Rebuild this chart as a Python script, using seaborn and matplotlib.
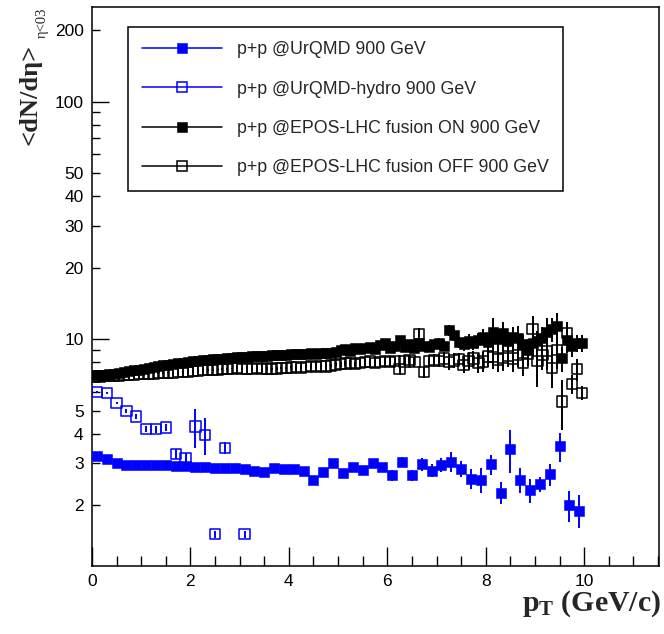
import numpy as np
import pandas as pd
import matplotlib
matplotlib.use("Agg")
import matplotlib.pyplot as plt
import seaborn as sns
from matplotlib.lines import Line2D
from matplotlib.ticker import FixedLocator, FixedFormatter, MultipleLocator, NullFormatter

# ---------------- data ----------------
pt_coarse = [0.1, 0.3, 0.5, 0.7, 0.9, 1.1, 1.3, 1.5, 1.7, 1.9,
             2.1, 2.3, 2.5, 2.7, 2.9, 3.1, 3.3, 3.5, 3.7, 3.9,
             4.1, 4.3, 4.5, 4.7, 4.9, 5.1, 5.3, 5.5, 5.7, 5.9,
             6.1, 6.3, 6.5, 6.7, 6.9, 7.1, 7.3, 7.5, 7.7, 7.9,
             8.1, 8.3, 8.5, 8.7, 8.9, 9.1, 9.3, 9.5, 9.7, 9.9]

urqmd_val = [3.23, 3.14, 3.02, 2.95, 2.94, 2.94, 2.94, 2.94, 2.93, 2.92,
             2.90, 2.89, 2.88, 2.86, 2.88, 2.85, 2.80, 2.77, 2.86, 2.84,
             2.84, 2.80, 2.56, 2.76, 3.00, 2.74, 2.91, 2.82, 3.00, 2.89,
             2.68, 3.05, 2.67, 2.98, 2.80, 2.96, 3.05, 2.84, 2.59, 2.56,
             2.97, 2.26, 3.44, 2.56, 2.32, 2.45, 2.70, 3.54, 2.00, 1.90]
urqmd_err = [0.02, 0.02, 0.02, 0.02, 0.02, 0.02, 0.02, 0.02, 0.02, 0.02,
             0.03, 0.03, 0.03, 0.03, 0.03, 0.04, 0.04, 0.04, 0.04, 0.05,
             0.05, 0.06, 0.06, 0.07, 0.07, 0.08, 0.10, 0.10, 0.12, 0.12,
             0.14, 0.15, 0.15, 0.18, 0.18, 0.20, 0.30, 0.22, 0.25, 0.30,
             0.30, 0.24, 0.70, 0.30, 0.27, 0.18, 0.28, 0.50, 0.30, 0.30]

pt_hydro = [0.1, 0.3, 0.5, 0.7, 0.9, 1.1, 1.3, 1.5, 1.7, 1.9,
            2.1, 2.3, 2.5, 2.7, 3.1]
hydro_val = [5.98, 5.93, 5.38, 4.99, 4.72, 4.18, 4.18, 4.25, 3.29, 3.16,
             4.29, 3.96, 1.51, 3.48, 1.51]
hydro_err = [0.05, 0.05, 0.06, 0.08, 0.10, 0.12, 0.15, 0.15, 0.15, 0.15,
             0.80, 0.70, 0.05, 0.20, 0.05]

pt_fine = [0.05, 0.15, 0.25, 0.35, 0.45, 0.55, 0.65, 0.75, 0.85, 0.95,
           1.05, 1.15, 1.25, 1.35, 1.45, 1.55, 1.65, 1.75, 1.85, 1.95,
           2.05, 2.15, 2.25, 2.35, 2.45, 2.55, 2.65, 2.75, 2.85, 2.95,
           3.05, 3.15, 3.25, 3.35, 3.45, 3.55, 3.65, 3.75, 3.85, 3.95,
           4.05, 4.15, 4.25, 4.35, 4.45, 4.55, 4.65, 4.75, 4.85, 4.95,
           5.05, 5.15, 5.25, 5.35, 5.45, 5.55, 5.65, 5.75, 5.85, 5.95,
           6.05, 6.15, 6.25, 6.35, 6.45, 6.55, 6.65, 6.75, 6.85, 6.95,
           7.05, 7.15, 7.25, 7.35, 7.45, 7.55, 7.65, 7.75, 7.85, 7.95,
           8.05, 8.15, 8.25, 8.35, 8.45, 8.55, 8.65, 8.75, 8.85, 8.95,
           9.05, 9.15, 9.25, 9.35, 9.45, 9.55, 9.65, 9.75, 9.85, 9.95]

epos_on_val = [7.05, 7.07, 7.09, 7.12, 7.16, 7.21, 7.27, 7.33, 7.39, 7.45,
               7.52, 7.58, 7.64, 7.70, 7.76, 7.82, 7.87, 7.92, 7.97, 8.02,
               8.06, 8.10, 8.14, 8.18, 8.22, 8.26, 8.29, 8.32, 8.35, 8.38,
               8.40, 8.43, 8.46, 8.48, 8.50, 8.52, 8.55, 8.57, 8.59, 8.61,
               8.63, 8.66, 8.64, 8.70, 8.72, 8.69, 8.75, 8.78, 8.74, 8.80,
               9.00, 9.10, 8.95, 9.20, 9.05, 9.15, 9.30, 9.10, 9.45, 9.60,
               9.20, 9.35, 9.90, 9.30, 9.50, 9.20, 9.60, 9.40, 9.30, 9.50,
               9.60, 9.40, 10.90, 10.40, 9.70, 9.50, 9.80, 9.60, 9.90, 10.25,
               9.70, 10.75, 10.00, 10.60, 9.80, 10.20, 10.10, 9.50, 9.00, 9.60,
               9.80, 10.10, 10.75, 11.00, 11.40, 8.30, 9.95, 9.40, 9.60, 9.60]
epos_on_err = [0.03, 0.03, 0.03, 0.03, 0.03, 0.03, 0.03, 0.03, 0.03, 0.03,
               0.03, 0.03, 0.03, 0.03, 0.03, 0.03, 0.03, 0.03, 0.03, 0.03,
               0.06, 0.06, 0.06, 0.06, 0.06, 0.06, 0.06, 0.06, 0.06, 0.06,
               0.06, 0.06, 0.06, 0.06, 0.06, 0.06, 0.06, 0.06, 0.06, 0.06,
               0.10, 0.10, 0.10, 0.10, 0.10, 0.10, 0.10, 0.10, 0.10, 0.10,
               0.20, 0.20, 0.25, 0.20, 0.30, 0.25, 0.30, 0.25, 0.30, 0.35,
               0.30, 0.35, 0.40, 0.35, 0.40, 0.40, 0.45, 0.40, 0.50, 0.45,
               0.50, 0.50, 0.60, 0.60, 0.50, 0.60, 0.70, 0.60, 0.70, 0.80,
               0.80, 1.50, 0.90, 1.20, 0.90, 1.00, 1.30, 0.90, 1.00, 0.90,
               1.00, 1.20, 1.50, 1.30, 1.50, 1.00, 1.20, 1.00, 0.80, 0.80]

epos_off_val = [6.95, 6.97, 6.98, 7.00, 7.02, 7.04, 7.06, 7.08, 7.10, 7.12,
                7.13, 7.15, 7.17, 7.18, 7.20, 7.22, 7.23, 7.25, 7.27, 7.28,
                7.35, 7.38, 7.40, 7.42, 7.44, 7.46, 7.48, 7.50, 7.52, 7.54,
                7.50, 7.52, 7.48, 7.55, 7.50, 7.53, 7.47, 7.52, 7.55, 7.58,
                7.60, 7.62, 7.58, 7.65, 7.70, 7.66, 7.72, 7.68, 7.75, 7.80,
                7.85, 7.90, 7.93, 7.85, 7.95, 8.00, 8.05, 7.95, 8.00, 8.10,
                8.00, 8.10, 7.49, 8.05, 8.15, 8.00, 10.50, 7.27, 8.10, 8.18,
                8.10, 8.30, 8.00, 8.13, 8.25, 7.79, 8.10, 8.30, 7.92, 8.05,
                8.45, 8.40, 8.20, 8.35, 8.50, 8.30, 8.60, 7.93, 8.70, 11.00,
                8.11, 8.60, 8.90, 7.55, 9.00, 5.46, 10.60, 6.46, 7.48, 5.93]
epos_off_err = [0.03, 0.03, 0.03, 0.03, 0.03, 0.03, 0.03, 0.03, 0.03, 0.03,
                0.04, 0.04, 0.04, 0.04, 0.04, 0.04, 0.04, 0.04, 0.04, 0.04,
                0.06, 0.06, 0.06, 0.06, 0.06, 0.06, 0.06, 0.06, 0.06, 0.06,
                0.08, 0.08, 0.08, 0.08, 0.08, 0.08, 0.08, 0.08, 0.08, 0.08,
                0.12, 0.12, 0.12, 0.12, 0.12, 0.12, 0.12, 0.12, 0.12, 0.12,
                0.20, 0.20, 0.25, 0.20, 0.25, 0.25, 0.30, 0.25, 0.30, 0.30,
                0.30, 0.35, 0.40, 0.35, 0.40, 0.40, 0.60, 0.40, 0.50, 0.45,
                0.50, 0.50, 0.60, 0.60, 0.50, 0.60, 0.70, 0.60, 0.70, 0.80,
                0.80, 0.90, 0.90, 1.00, 0.90, 1.00, 1.00, 0.90, 1.00, 1.50,
                1.80, 1.20, 1.50, 1.30, 1.50, 1.30, 1.20, 0.60, 0.80, 0.40]

labels = ["p+p @UrQMD 900 GeV",
          "p+p @UrQMD-hydro 900 GeV",
          "p+p @EPOS-LHC fusion ON 900 GeV",
          "p+p @EPOS-LHC fusion OFF 900 GeV"]

# ---------------- style ----------------
sns.set_style("ticks")
plt.rcParams["font.family"] = ["Liberation Sans", "DejaVu Sans"]
plt.rcParams["mathtext.fontset"] = "custom"
plt.rcParams["mathtext.rm"] = "Liberation Serif"
plt.rcParams["mathtext.bf"] = "Liberation Serif:bold"
plt.rcParams["mathtext.it"] = "Liberation Serif:italic"
plt.rcParams["xtick.bottom"] = True
plt.rcParams["ytick.left"] = True
plt.rcParams["xtick.direction"] = "in"
plt.rcParams["ytick.direction"] = "in"
plt.rcParams["xtick.color"] = "black"
plt.rcParams["ytick.color"] = "black"

W, H = 664, 634
fig = plt.figure(figsize=(W / 100, H / 100), dpi=100)
L, R, T, B = 92, 659, 7, 566
ax = fig.add_axes([L / W, 1 - B / H, (R - L) / W, (B - T) / H])

BLUE = "#0000ff"
BLACK = "#000000"

series = [
    (pt_coarse, urqmd_val, urqmd_err, BLUE, True, labels[0]),
    (pt_hydro, hydro_val, hydro_err, BLUE, False, labels[1]),
    (pt_fine, epos_on_val, epos_on_err, BLACK, True, labels[2]),
    (pt_fine, epos_off_val, epos_off_err, BLACK, False, labels[3]),
]

handles = []
for x, y, e, col, filled, lab in series:
    df = pd.DataFrame({"pt": x, "val": y, "err": e})
    ax.errorbar(df["pt"], df["val"], yerr=df["err"], fmt="none",
                ecolor=col, elinewidth=1.4, capsize=0, zorder=2)
    sns.scatterplot(data=df, x="pt", y="val", ax=ax, marker="s", s=55,
                    color=col, edgecolor=col,
                    linewidth=0.4 if filled else 1.1, zorder=3, legend=False)
    coll = ax.collections[-1]
    if not filled:
        coll.set_facecolor("none")
    handles.append(Line2D([], [], color=col, lw=1.1, marker="s",
                          markersize=7.4 if filled else 6.8,
                          markerfacecolor=col if filled else "none",
                          markeredgecolor=col,
                          markeredgewidth=0.4 if filled else 1.1,
                          label=lab))

ax.set_yscale("log")
ax.set_xlim(0, 11.52)
ax.set_ylim(1.11, 250)

ax.xaxis.set_major_locator(FixedLocator([0, 2, 4, 6, 8, 10]))
ax.xaxis.set_major_formatter(FixedFormatter(["0", "2", "4", "6", "8", "10"]))
ax.xaxis.set_minor_locator(MultipleLocator(0.5))
ax.xaxis.set_minor_formatter(NullFormatter())

ax.yaxis.set_major_locator(FixedLocator([10, 100]))
ax.yaxis.set_major_formatter(FixedFormatter(["10", "100"]))
minor_pos = [2, 3, 4, 5, 6, 7, 8, 9, 20, 30, 40, 50, 60, 70, 80, 90, 200]
minor_lab = ["2", "3", "4", "5", "", "", "", "", "20", "30", "40", "50",
             "", "", "", "", "200"]
ax.yaxis.set_minor_locator(FixedLocator(minor_pos))
ax.yaxis.set_minor_formatter(FixedFormatter(minor_lab))

ax.tick_params(axis="x", which="major", direction="in", length=13.5, width=1.0,
               labelsize=12.5, pad=6, bottom=True, top=False, color="black")
ax.tick_params(axis="x", which="minor", direction="in", length=7, width=1.0,
               bottom=True, top=False, color="black")
ax.tick_params(axis="y", which="major", direction="in", length=12, width=1.0,
               labelsize=12.5, pad=6, left=True, right=False, color="black")
ax.tick_params(axis="y", which="minor", direction="in", length=6, width=1.0,
               labelsize=12.5, pad=6, left=True, right=False, color="black")
for sp in ax.spines.values():
    sp.set_linewidth(1.1)
    sp.set_color("black")
    sp.set_visible(True)
ax.set_xlabel("")
ax.set_ylabel("")

leg = ax.legend(handles=handles, loc="upper left",
                bbox_to_anchor=(128 / W, 1 - 27 / H), bbox_transform=fig.transFigure,
                borderaxespad=0, frameon=True, fancybox=False, shadow=False,
                fontsize=12.8, handlelength=4.5, handletextpad=0.85,
                labelspacing=1.26, borderpad=0.8, edgecolor="black",
                framealpha=1)
leg.get_frame().set_linewidth(1.1)

fig.text(661 / W, 1 - 604 / H, r"$\mathbf{p_{T}}$ (GeV/c)", ha="right", va="center",
         fontsize=21.5, family="Liberation Serif", weight="bold")
fig.text(30 / W, 1 - 94 / H, "<dN/dη>", rotation=90, ha="center", va="center",
         fontsize=19, family="Liberation Serif", weight="bold")
fig.text(42 / W, 1 - 23 / H, "η<03", rotation=90, ha="center", va="center",
         fontsize=10.5, family="Liberation Serif")

fig.savefig("out.png", dpi=100)
